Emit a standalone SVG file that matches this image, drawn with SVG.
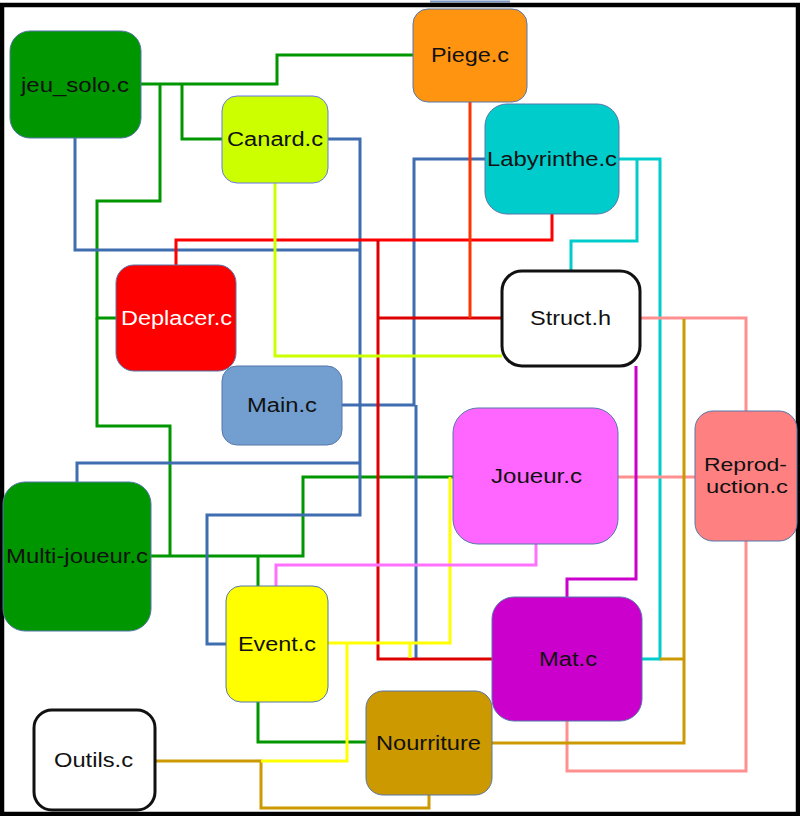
<svg xmlns="http://www.w3.org/2000/svg" width="800" height="816" viewBox="0 0 800 816">
<style>
.n{stroke:#5577aa;stroke-width:1}
.b{stroke:#111;stroke-width:3}
.t{font-family:"Liberation Sans",Arial,sans-serif;font-size:20px;fill:#111}
.c{fill:none;stroke-width:3;stroke-linejoin:miter}
.g{stroke:#009600}.bl{stroke:#3e6db0}.r{stroke:#ff0000}.dr{stroke:#dd0000}.or{stroke:#ff3300}
.yg{stroke:#ccff00}.cy{stroke:#00cccc}.sa{stroke:#ff9090}.go{stroke:#cc9900}.y{stroke:#ffff00}
.pk{stroke:#ff70ff}.mg{stroke:#cc00cc}
</style>
<rect x="0" y="0" width="800" height="816" fill="#fff"/>
<line x1="430" y1="1.5" x2="510" y2="1.5" stroke="#7a96c2" stroke-width="2"/>
<rect x="2" y="5" width="796" height="809" fill="none" stroke="#000" stroke-width="4.5"/>
<g id="connectors">
<path class="c g" d="M141,84 H277 V55 H413"/>
<path class="c g" d="M182,84 V139 H222"/>
<path class="c g" d="M160,84 V201 H97 V318 H116"/>
<path class="c g" d="M97,318 V426 H170 V556"/>
<path class="c g" d="M151,556 H303 V477 H453"/>
<path class="c g" d="M258,556 V586"/>
<path class="c g" d="M258,702 V742 H366"/>
<path class="c bl" d="M75,138 V250 H360" stroke-width="4.5"/>
<path class="c bl" d="M328,139 H360 V515 H207 V644 H226" stroke-width="3.5"/>
<path class="c bl" d="M360,463 H77 V482"/>
<path class="c bl" d="M485,159 H414 V405 H342" stroke-width="3.5"/>
<path class="c bl" d="M416,405 V658"/>
<path class="c r" d="M176,265 V240 H378" stroke-width="4.5"/>
<path class="c r" d="M378,240 H552 V214"/>
<path class="c dr" d="M378,240 V659 H492"/>
<path class="c dr" d="M378,318 H502"/>
<path class="c or" d="M470,102 V318"/>
<path class="c yg" d="M275,183 V356 H502"/>
<path class="c cy" d="M619,159 H660 V659 H642"/>
<path class="c cy" d="M637,159 V241 H571 V270"/>
<path class="c sa" d="M640,318 H746 V411"/>
<path class="c sa" d="M618,477 H695"/>
<path class="c sa" d="M746,541 V771 H567 V721"/>
<path class="c go" d="M684,319 V743 H492"/>
<path class="c go" d="M660,659 H684"/>
<path class="c go" d="M155,761 H261 V808 H429 V795"/>
<path class="c y" d="M328,643 H450 V477"/>
<path class="c y" d="M347,643 V761 H261"/>
<path class="c y" d="M410,643 V658"/>
<path class="c pk" d="M536,544 V565 H276 V586"/>
<path class="c mg" d="M636,366 V579 H567 V597"/>
</g>
<g id="jeu_solo">
<rect class="n" x="10" y="31" width="131" height="107" rx="20" fill="#009600"/>
<text class="t" x="21" y="92" textLength="108" lengthAdjust="spacingAndGlyphs">jeu_solo.c</text>
</g>
<g id="canard">
<rect x="222" y="96" width="106" height="87" rx="15" fill="#ccff00" stroke="#6677ee" stroke-width="1"/>
<text class="t" x="227" y="146" textLength="96" lengthAdjust="spacingAndGlyphs">Canard.c</text>
</g>
<g id="piege">
<rect class="n" x="413" y="9" width="114" height="93" rx="15" fill="#ff9410"/>
<text class="t" x="431" y="62" textLength="78" lengthAdjust="spacingAndGlyphs">Piege.c</text>
</g>
<g id="labyrinthe">
<rect class="n" x="485" y="104" width="134" height="110" rx="22" fill="#00cccc"/>
<text class="t" x="487" y="166" textLength="130" lengthAdjust="spacingAndGlyphs">Labyrinthe.c</text>
</g>
<g id="struct">
<rect class="b" x="502" y="271" width="138" height="95" rx="20" fill="#fff"/>
<text class="t" x="530" y="325" textLength="81" lengthAdjust="spacingAndGlyphs">Struct.h</text>
</g>
<g id="deplacer">
<rect class="n" x="116" y="265" width="120" height="106" rx="18" fill="#ff0000"/>
<text class="t" x="121" y="325" textLength="111" lengthAdjust="spacingAndGlyphs" style="fill:#fff">Deplacer.c</text>
</g>
<g id="main">
<rect class="n" x="222" y="366" width="120" height="79" rx="15" fill="#729fcf"/>
<text class="t" x="247" y="412" textLength="70" lengthAdjust="spacingAndGlyphs">Main.c</text>
</g>
<g id="multi">
<rect class="n" x="3" y="482" width="148" height="149" rx="22" fill="#009600"/>
<text class="t" x="6" y="563" textLength="142" lengthAdjust="spacingAndGlyphs">Multi-joueur.c</text>
</g>
<g id="joueur">
<rect class="n" x="453" y="408" width="165" height="136" rx="25" fill="#ff66ff"/>
<text class="t" x="491" y="483" textLength="91" lengthAdjust="spacingAndGlyphs">Joueur.c</text>
</g>
<g id="reproduction">
<rect class="n" x="695" y="411" width="102" height="130" rx="18" fill="#ff8080"/>
<text class="t" x="704" y="471" textLength="83" lengthAdjust="spacingAndGlyphs" style="font-size:18px">Reprod-</text>
<text class="t" x="706" y="493" textLength="82" lengthAdjust="spacingAndGlyphs" style="font-size:18px">uction.c</text>
</g>
<g id="event">
<rect class="n" x="226" y="586" width="102" height="116" rx="15" fill="#ffff00"/>
<text class="t" x="238" y="651" textLength="78" lengthAdjust="spacingAndGlyphs">Event.c</text>
</g>
<g id="mat">
<rect class="n" x="492" y="597" width="150" height="124" rx="22" fill="#cc00cc"/>
<text class="t" x="539" y="666" textLength="58" lengthAdjust="spacingAndGlyphs">Mat.c</text>
</g>
<g id="nourriture">
<rect class="n" x="366" y="691" width="126" height="104" rx="17" fill="#cc9900"/>
<text class="t" x="376" y="750" textLength="105" lengthAdjust="spacingAndGlyphs">Nourriture</text>
</g>
<g id="outils">
<rect class="b" x="34" y="710" width="121" height="100" rx="18" fill="#fff"/>
<text class="t" x="54" y="767" textLength="79" lengthAdjust="spacingAndGlyphs">Outils.c</text>
</g>
</svg>
